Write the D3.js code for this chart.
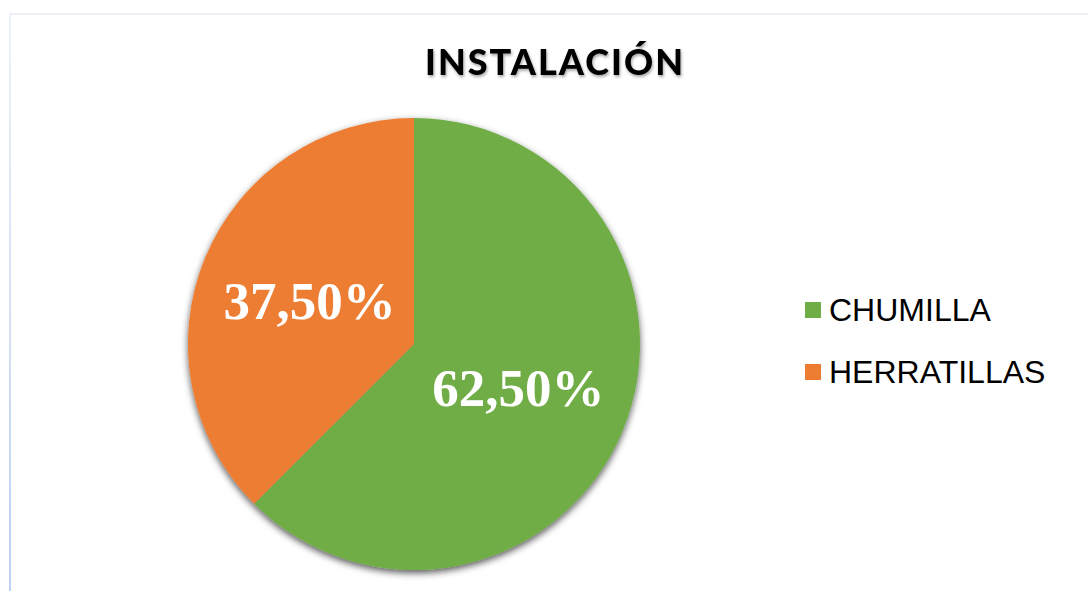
<!DOCTYPE html>
<html>
<head>
	<meta http-equiv="Content-Type" content="text/html; charset=utf-8"/>
	<title>Instalación</title>
	<style>
		body { margin: 0; background: #fff; }
		svg { display: block; }
	</style>
</head>
<body>
	<svg width="1088" height="591" id="viz"></svg>

	<script src="https://d3js.org/d3.v7.min.js"></script>
	<script>
		// Datos
		var categorias = ["CHUMILLA", "HERRATILLAS"];
		var valores = [62.5, 37.5];
		var etiquetas = ["62,50%", "37,50%"];
		var colores = ["#70AD47", "#ED7D31"];

		const width = 1088, height = 591;
		const cx = 414, cy = 344, radio = 226;

		var svg = d3.select("#viz");

		// filtros: sombra del pastel y del titulo
		var defs = svg.append("defs");
		defs.append("filter").attr("id", "sombra")
			.attr("x", "-10%").attr("y", "-10%").attr("width", "130%").attr("height", "130%")
			.append("feDropShadow")
			.attr("dx", 0).attr("dy", 3).attr("stdDeviation", 3.5)
			.attr("flood-color", "#000").attr("flood-opacity", 0.65);
		defs.append("filter").attr("id", "sombraTitulo")
			.append("feDropShadow")
			.attr("dx", 1).attr("dy", 2).attr("stdDeviation", 1.5)
			.attr("flood-color", "#000").attr("flood-opacity", 0.35);

		// marco del area del grafico
		svg.append("line")
			.attr("x1", 9).attr("x2", width).attr("y1", 14).attr("y2", 14)
			.attr("stroke", "#eef0f6").attr("stroke-width", 2);
		var grad = defs.append("linearGradient").attr("id", "gradBorde")
			.attr("x1", 0).attr("x2", 0).attr("y1", 0).attr("y2", 1);
		grad.append("stop").attr("offset", "0%").attr("stop-color", "#eef2fa");
		grad.append("stop").attr("offset", "100%").attr("stop-color", "#bcd0f0");
		svg.append("rect")
			.attr("x", 9).attr("y", 14).attr("width", 2).attr("height", height - 14)
			.attr("fill", "url(#gradBorde)");

		// Titulo
		svg.append("text")
			.attr("x", 555).attr("y", 75)
			.attr("text-anchor", "middle")
			.attr("font-family", "Lato, 'Open Sans', sans-serif")
			.attr("font-weight", "900")
			.attr("font-size", "36px")
			.attr("letter-spacing", "2px")
			.attr("fill", "#000")
			.attr("filter", "url(#sombraTitulo)")
			.text("INSTALACIÓN");

		// Pastel
		var datos = categorias.map((c, i) => ({cat: c, valor: valores[i], etiqueta: etiquetas[i], color: colores[i]}));

		var pie = d3.pie().sort(null).value(d => d.valor);
		var arco = d3.arc().innerRadius(0).outerRadius(radio);
		var arcoEtiqueta = d3.arc().innerRadius(radio * 0.5).outerRadius(radio * 0.5);

		var g = svg.append("g").attr("transform", `translate(${cx},${cy})`);

		g.append("g").attr("filter", "url(#sombra)")
			.selectAll("path")
			.data(pie(datos))
			.enter()
			.append("path")
			.attr("d", arco)
			.attr("fill", d => d.data.color);

		g.selectAll("text.etiqueta")
			.data(pie(datos))
			.enter()
			.append("text")
			.attr("class", "etiqueta")
			.attr("transform", d => `translate(${arcoEtiqueta.centroid(d)})`)
			.attr("text-anchor", "middle")
			.attr("dy", "0.35em")
			.attr("font-family", "'Liberation Serif', 'Times New Roman', serif")
			.attr("font-weight", "bold")
			.attr("font-size", "53px")
			.attr("fill", "#fff")
			.text(d => d.data.etiqueta);

		// Leyenda
		var leyenda = svg.append("g").attr("transform", "translate(805,310)");
		var items = leyenda.selectAll("g")
			.data(datos)
			.enter()
			.append("g")
			.attr("transform", (d, i) => `translate(0,${i * 62})`);

		items.append("rect")
			.attr("x", 0).attr("y", -8)
			.attr("width", 16).attr("height", 16)
			.attr("fill", d => d.color);

		items.append("text")
			.attr("x", 24).attr("y", 11)
			.attr("font-family", "'Liberation Sans', Arial, sans-serif")
			.attr("font-size", "32px")
			.attr("fill", "#000")
			.text(d => d.cat);
	</script>
</body>
</html>
